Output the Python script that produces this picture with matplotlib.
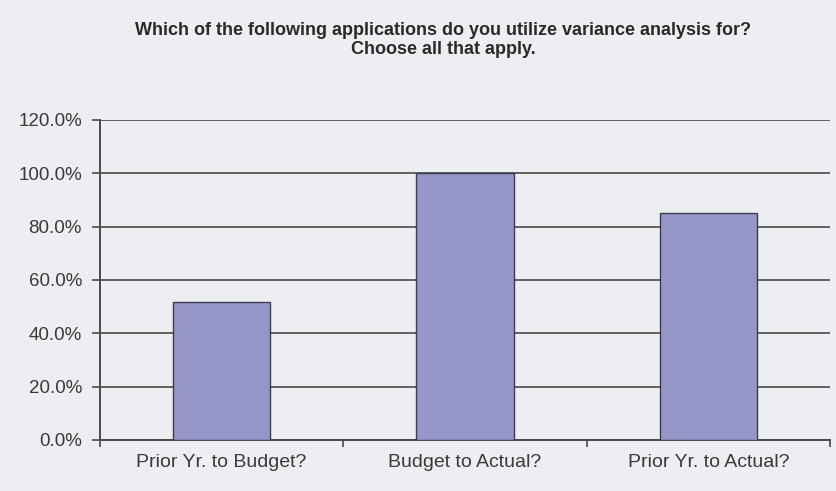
import matplotlib
matplotlib.use("Agg")
import matplotlib.pyplot as plt
from matplotlib.ticker import FuncFormatter, FixedLocator

categories = ["Prior Yr. to Budget?", "Budget to Actual?", "Prior Yr. to Actual?"]
shares = [51.7, 100.0, 85.0]
y_ticks = [0, 20, 40, 60, 80, 100, 120]
title = "Which of the following applications do you utilize variance analysis for?\nChoose all that apply."

fonts = ["Liberation Sans Narrow", "Liberation Sans", "DejaVu Sans"]
plt.rcParams["font.family"] = fonts

bg = "#eceef1"
bar_color = "#9696c8"
line_color = "#4a4a4a"

fig = plt.figure(figsize=(8.37, 4.91), dpi=100, facecolor=bg)
ax = fig.add_axes([100 / 837, 1 - 440 / 491, 730 / 837, 320 / 491], facecolor=bg)

x = list(range(len(categories)))
ax.set_axisbelow(True)
ax.yaxis.grid(True, color=line_color, linewidth=1.2)
ax.bar(x, shares, width=0.4, color=bar_color, edgecolor="#3c3c50", linewidth=1.0, zorder=3)

ax.set_xlim(-0.5, len(categories) - 0.5)
ax.set_ylim(0, 120)
ax.set_yticks(y_ticks)
ax.yaxis.set_major_formatter(FuncFormatter(lambda v, _: f"{v:.1f}%"))

ax.set_xticks(x)
ax.set_xticklabels(categories)
ax.xaxis.set_minor_locator(FixedLocator([i - 0.5 for i in range(len(categories) + 1)]))
ax.tick_params(axis="x", which="major", length=0, pad=10, labelsize=14, labelcolor="#3a3a3a")
ax.tick_params(axis="x", which="minor", length=5, width=1.2, color=line_color, direction="out")
ax.tick_params(axis="y", length=6, width=1.2, color=line_color, pad=7, labelsize=13.5, labelcolor="#3a3a3a")

for side in ("top", "right"):
    ax.spines[side].set_visible(False)
for side in ("left", "bottom"):
    ax.spines[side].set_color(line_color)
    ax.spines[side].set_linewidth(1.4)

fig.text(443 / 837, 1 - 40 / 491, title, ha="center", va="center", fontsize=13,
         fontweight="bold", color="#2a2a2a", linespacing=1.15)

fig.savefig("out.png", dpi=100, facecolor=bg)
